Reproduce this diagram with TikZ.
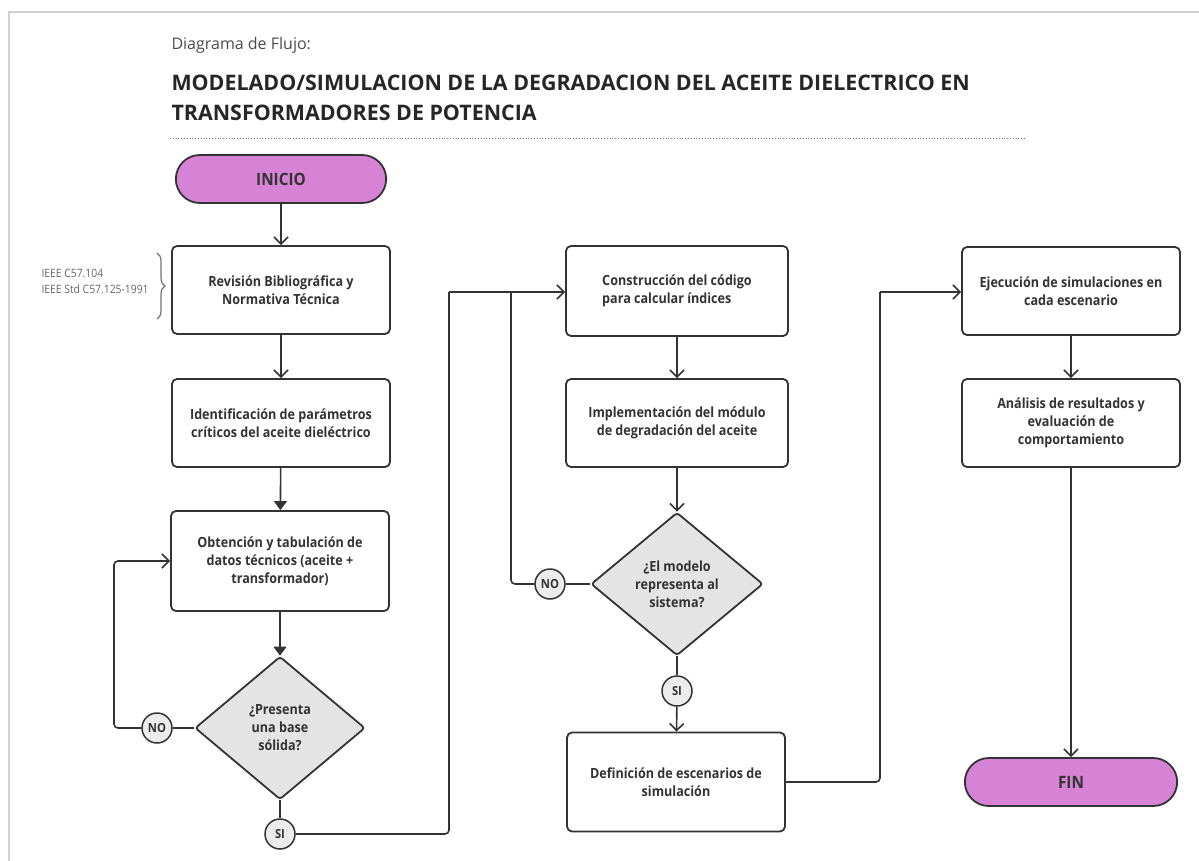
\documentclass[tikz,border=0pt]{standalone}
\usepackage{fontspec}
\setmainfont{Open Sans}[FakeStretch=0.9]
\newfontfamily\titulofont{Open Sans}
\usetikzlibrary{shapes.geometric,shapes.misc,arrows.meta,decorations.pathreplacing}

\definecolor{trazo}{HTML}{333333}
\definecolor{rosa}{HTML}{D783D5}
\definecolor{grisdec}{HTML}{E4E4E4}

\tikzset{
  proceso/.style={draw=trazo, line width=1.8pt, rounded corners=5pt, fill=white,
    minimum width=218pt, minimum height=88pt, align=center, text=trazo,
    font=\bfseries\fontsize{14}{18}\selectfont},
  terminal/.style={rounded rectangle, draw=trazo, line width=1.8pt, fill=rosa,
    minimum width=217pt, minimum height=48pt, text=trazo,
    font=\bfseries\fontsize{17}{20}\selectfont},
  decision/.style={diamond, draw=trazo, line width=1.8pt, fill=grisdec, rounded corners=3pt,
    minimum width=170pt, minimum height=143pt, inner sep=0pt, align=center, text=trazo,
    font=\bfseries\fontsize{14}{18}\selectfont},
  etiqueta/.style={circle, draw=trazo, line width=1.5pt, fill=grisdec!70, minimum size=30pt,
    inner sep=0pt, text=trazo, font=\bfseries\fontsize{12.5}{14}\selectfont},
  flecha/.style={draw=trazo, line width=1.6pt, rounded corners=4pt,
    -{Straight Barb[length=7pt,width=14pt]}},
  flechallena/.style={draw=trazo, line width=1.6pt, -{Triangle[length=9pt,width=13pt]}},
  union/.style={draw=trazo, line width=1.6pt, rounded corners=4pt}
}

\begin{document}
\begin{tikzpicture}[x=1pt, y=-1pt]

\useasboundingbox (0,0) rectangle (1199,861);
\draw[black!18, line width=2pt] (9,861) -- (9,12) -- (1199,12);

% encabezado
\node[anchor=base west, text=black!70, font=\titulofont\fontsize{16}{19}\selectfont] (subtit) at (168,50) {Diagrama de Flujo:};
\node[anchor=base west, text=black!85, font=\titulofont\bfseries\fontsize{21.4}{25}\selectfont] (tit1) at (168,91) {MODELADO/SIMULACION DE LA DEGRADACION DEL ACEITE DIELECTRICO EN};
\node[anchor=base west, text=black!85, font=\titulofont\bfseries\fontsize{21.4}{25}\selectfont] (tit2) at (168,121) {TRANSFORMADORES DE POTENCIA};
\draw[black!55, line width=0.8pt, dotted] (170,138) -- (1025,138);

% columna 1
\node[terminal] (inicio) at (281,179) {INICIO};
\node[proceso] (revision) at (281,290) {Revisión Bibliográfica y\\Normativa Técnica};
\node[proceso] (ident) at (281,423) {Identificación de parámetros\\críticos del aceite dieléctrico};
\node[proceso, minimum height=100pt] (obten) at (280,561) {Obtención y tabulación de\\datos técnicos (aceite +\\transformador)};
\node[decision] (dec1) at (280,728) {¿Presenta\\una base\\sólida?};
\node[etiqueta] (no1) at (157,728) {NO};
\node[etiqueta] (si1) at (280,834) {SI};

% normas
\node[anchor=west, align=left, text=black!60, font=\fontsize{11.5}{16}\selectfont] (normas) at (38,281) {IEEE C57.104\\IEEE Std C57.125-1991};
\draw[decorate, decoration={brace, amplitude=8pt}, black!55, line width=1.2pt] (157,253) -- (157,319);

% columna 2
\node[proceso, minimum width=222pt, minimum height=90pt, align=left] (constr) at (677,291) {Construcción del código\\para calcular índices};
\node[proceso, minimum width=222pt] (implem) at (677,423) {Implementación del módulo\\de degradación del aceite};
\node[decision, minimum width=172pt] (dec2) at (677,584) {¿El modelo\\representa al\\sistema?};
\node[etiqueta] (no2) at (550,584) {NO};
\node[etiqueta] (si2) at (677,691) {SI};
\node[proceso, minimum width=218pt, minimum height=99pt] (defin) at (676,782) {Definición de escenarios de\\simulación};

% columna 3
\node[proceso] (ejec) at (1071,291) {Ejecución de simulaciones en\\cada escenario};
\node[proceso] (analisis) at (1071,423) {Análisis de resultados y\\evaluación de\\comportamiento};
\node[terminal, minimum width=219pt] (fin) at (1071,782) {FIN};

\coordinate (j1) at (449,292);
\coordinate (j2) at (511,292);
\coordinate (j3) at (880,292);

% conectores
\draw[flecha] (inicio) -- (revision);
\draw[flecha] (revision) -- (ident);
\draw[flechallena] (ident) -- (obten);
\draw[flechallena] (obten) -- (dec1);
\draw[union] (dec1.west) -- (no1);
\draw[flecha] (no1.west) -- (114,728) |- (obten.west);
\draw[union] (dec1.south) -- (si1);
\draw[union] (si1.east) -| (j1);
\draw[flecha] (j1) -- (constr.west |- j1);

\draw[flecha] (constr) -- (implem);
\draw[flecha] (implem) -- (dec2);
\draw[union] (dec2.west) -- (no2);
\draw[union] (no2.west) -| (j2);
\draw[union] (dec2.south) -- (si2);
\draw[flecha] (si2) -- (defin);
\draw[union] (defin.east) -| (j3);
\draw[flecha] (j3) -- (ejec.west |- j3);

\draw[flecha] (ejec) -- (analisis);
\draw[flecha] (analisis) -- (fin);

\end{tikzpicture}
\end{document}
